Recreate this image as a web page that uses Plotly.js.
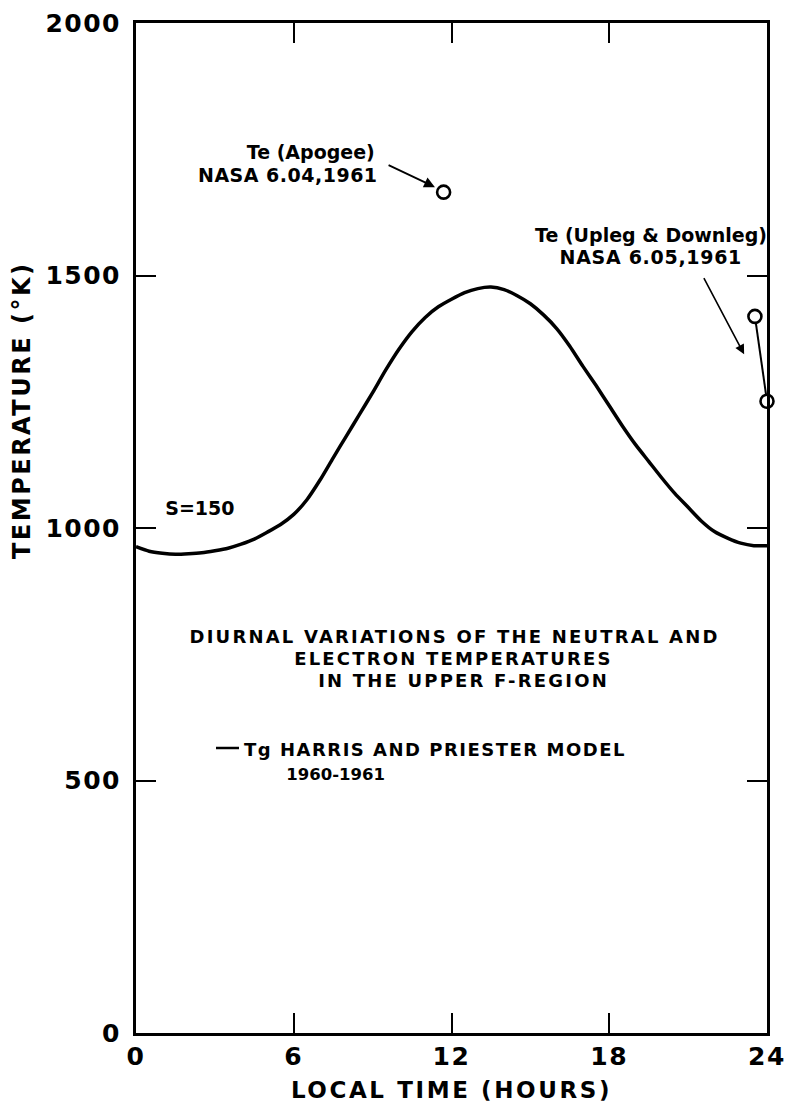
<!DOCTYPE html>
<html>
<head>
<meta charset="utf-8">
<script src="https://cdn.plot.ly/plotly-3.0.1.min.js"></script>
<style>
  html, body { margin: 0; padding: 0; background: #fff; }
  #chart { width: 788px; height: 1103px; }
  .xtick text, .ytick text { letter-spacing: 1.5px; }
  .xtitle { letter-spacing: 2.6px; }
  .annotation-text { letter-spacing: 0.5px; }
  g.annotation[data-index="0"] text { letter-spacing: 2.5px; }
  g.annotation[data-index="1"] text { letter-spacing: 0px; }
  g.annotation[data-index="2"] text { letter-spacing: 0.5px; }
  g.annotation[data-index="3"] text { letter-spacing: 0px; }
  g.annotation[data-index="4"] text { letter-spacing: 0.7px; }
  g.annotation[data-index="5"] text { letter-spacing: 0px; }
  g.annotation[data-index="6"] text,
  g.annotation[data-index="7"] text,
  g.annotation[data-index="8"] text { letter-spacing: 2.2px; }
  g.annotation[data-index="9"] text { letter-spacing: 1.5px; }
  g.annotation[data-index="10"] text { letter-spacing: 0px; }
</style>
</head>
<body>
<div id="chart"></div>
<script>
// Harris & Priester model neutral temperature Tg (S=150), 1960-1961
const modelHours = [0, 0.5, 1, 1.5, 2, 2.5, 3, 3.5, 4, 4.5, 5, 5.5, 6, 6.5, 7, 7.5, 8, 8.5, 9, 9.5, 10, 10.5, 11, 11.5, 12, 12.5, 13, 13.5, 14, 14.5, 15, 15.5, 16, 16.5, 17, 17.5, 18, 18.5, 19, 19.5, 20, 20.5, 21, 21.5, 22, 22.5, 23, 23.5, 24];
const modelTemp  = [963, 954, 950, 948, 949, 951, 955, 960, 968, 978, 992, 1007, 1027, 1056, 1095, 1139, 1182, 1225, 1268, 1313, 1354, 1389, 1417, 1438, 1453, 1466, 1474, 1477, 1472, 1460, 1444, 1422, 1395, 1360, 1320, 1282, 1242, 1202, 1165, 1132, 1099, 1068, 1041, 1014, 993, 980, 970, 965, 965];

// Te (Apogee) NASA 6.04, 1961
const apogeeHours = [11.7];
const apogeeTemp  = [1665];

// Te (Upleg & Downleg) NASA 6.05, 1961
const uplegHours = [23.54, 24];
const uplegTemp  = [1419, 1251];

const xTicks = [0, 6, 12, 18, 24];
const yTicks = [0, 500, 1000, 1500, 2000];

const FONT = 'DejaVu Sans, Arial, sans-serif';

// plot-area pixel geometry helpers for text placement
const L = 136, T = 23, W = 631, H = 1010;
const px = v => (v - L) / W;
const py = v => (T + H - v) / H;

const traces = [
  {
    x: modelHours, y: modelTemp, type: 'scatter', mode: 'lines',
    line: {color: '#000', width: 3.5, shape: 'spline', smoothing: 0.6},
    hoverinfo: 'skip'
  },
  {
    x: apogeeHours, y: apogeeTemp, type: 'scatter', mode: 'markers',
    marker: {symbol: 'circle-open', size: 13, color: '#000', line: {width: 2.6, color: '#000'}},
    cliponaxis: false, hoverinfo: 'skip'
  },
  {
    x: uplegHours, y: uplegTemp, type: 'scatter', mode: 'lines+markers',
    line: {color: '#000', width: 2},
    marker: {symbol: 'circle', size: 13, color: '#fff', line: {width: 2.6, color: '#000'}},
    cliponaxis: false, hoverinfo: 'skip'
  }
];

function txt(text, x, y, size) {
  return {
    text: text, xref: 'paper', yref: 'paper', x: px(x), y: py(y),
    xanchor: 'center', yanchor: 'middle', showarrow: false,
    font: {family: FONT, size: size, color: '#000', weight: 'bold'}
  };
}

const annotations = [
  Object.assign(txt('TEMPERATURE (°K)', 22, 411, 24), {textangle: -90}),
  txt('Te (Apogee)', 311, 152, 19),
  txt('NASA 6.04,1961', 288, 175, 19),
  txt('Te (Upleg &amp; Downleg)', 651, 235, 19),
  txt('NASA 6.05,1961', 651, 257, 19),
  txt('S=150', 200, 508, 19),
  txt('DIURNAL VARIATIONS OF THE NEUTRAL AND', 455, 636, 18),
  txt('ELECTRON TEMPERATURES', 453, 658, 18),
  txt('IN THE UPPER F-REGION', 463, 680, 18),
  txt('Tg HARRIS AND PRIESTER MODEL', 435, 749, 18),
  txt('1960-1961', 335, 774, 16.5),
  {
    text: '', xref: 'x', yref: 'y', axref: 'x', ayref: 'y',
    x: 11.37, y: 1675, ax: 9.55, ay: 1720,
    showarrow: true, arrowhead: 2, arrowsize: 1.2, arrowwidth: 1.8, arrowcolor: '#000'
  },
  {
    text: '', xref: 'x', yref: 'y', axref: 'x', ayref: 'y',
    x: 23.13, y: 1344, ax: 21.57, ay: 1498,
    showarrow: true, arrowhead: 2, arrowsize: 1.2, arrowwidth: 1.6, arrowcolor: '#000'
  }
];

const shapes = [
  {type: 'line', xref: 'paper', yref: 'paper', x0: px(216), x1: px(239), y0: py(748), y1: py(748),
   line: {color: '#000', width: 2.5}}
];

const axisCommon = {
  showgrid: false, zeroline: false, showline: true, linecolor: '#000', linewidth: 3,
  mirror: 'ticks', ticks: 'inside', ticklen: 20, tickwidth: 2, tickcolor: '#000',
  tickfont: {family: FONT, size: 25, color: '#000', weight: 'bold'}, fixedrange: true
};

const layout = {
  width: 788, height: 1103,
  margin: {l: L, r: 788 - L - W, t: T, b: 1103 - T - H},
  paper_bgcolor: '#fff', plot_bgcolor: '#fff',
  showlegend: false,
  xaxis: Object.assign({}, axisCommon, {
    range: [0, 24], tickmode: 'array', tickvals: xTicks, ticktext: xTicks.map(String),
    ticklabelstandoff: -1,
    title: {text: 'LOCAL TIME (HOURS)', font: {family: FONT, size: 23, color: '#000', weight: 'bold'}, standoff: 14}
  }),
  yaxis: Object.assign({}, axisCommon, {
    range: [0, 2000], tickmode: 'array', tickvals: yTicks, ticktext: yTicks.map(String),
    ticklabelstandoff: 7
  }),
  annotations: annotations,
  shapes: shapes
};

Plotly.newPlot('chart', traces, layout, {staticPlot: true, displayModeBar: false});
</script>
</body>
</html>
